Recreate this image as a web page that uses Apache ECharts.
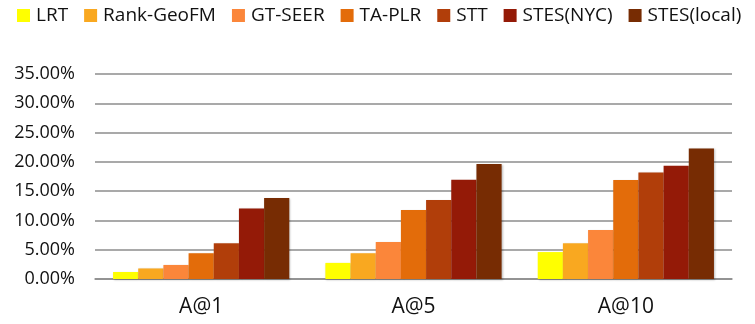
<!DOCTYPE html>
<html>
<head>
<meta charset="utf-8">
<script src="https://cdn.jsdelivr.net/npm/echarts@6/dist/echarts.min.js"></script>
<style>
  html, body { margin: 0; padding: 0; background: #fff; }
  #main { width: 755px; height: 324px; }
</style>
</head>
<body>
<div id="main"></div>
<script>
var categories = ['A@1', 'A@5', 'A@10'];
var seriesNames = ['LRT', 'Rank-GeoFM', 'GT-SEER', 'TA-PLR', 'STT', 'STES(NYC)', 'STES(local)'];
var lrt = [1.2, 2.75, 4.6];
var rankGeoFM = [1.8, 4.4, 6.1];
var gtSeer = [2.4, 6.3, 8.35];
var taPlr = [4.4, 11.8, 16.9];
var stt = [6.1, 13.5, 18.2];
var stesNyc = [12.05, 16.95, 19.35];
var stesLocal = [13.85, 19.65, 22.3];
var colors = ['#FFFF00', '#F9A820', '#FB863A', '#E36C0A', '#B13E0A', '#941A07', '#772C03'];

var values = [lrt, rankGeoFM, gtSeer, taPlr, stt, stesNyc, stesLocal];

var chartDom = document.getElementById('main');
var myChart = echarts.init(chartDom, null, { renderer: 'canvas' });
var option;
option = {
    animation: false,
    color: colors,
    textStyle: { fontFamily: 'Open Sans' },
    legend: {
        top: 1,
        left: 12,
        right: 0,
        itemWidth: 13,
        itemHeight: 13,
        itemGap: 16,
        icon: 'rect',
        textStyle: { fontSize: 19, color: '#111', padding: [0, 0, 0, 1] }
    },
    grid: { left: 95, right: 23, top: 74, bottom: 45 },
    xAxis: {
        type: 'category',
        data: categories,
        axisLine: { lineStyle: { color: '#8c8c8c', width: 1.5 } },
        axisTick: { show: false },
        axisLabel: { fontSize: 21, color: '#111', margin: 18 }
    },
    yAxis: {
        type: 'value',
        min: 0,
        max: 35,
        interval: 5,
        axisLine: { show: false },
        axisTick: { show: false },
        axisLabel: {
            fontSize: 18,
            color: '#111',
            margin: 20,
            formatter: function (v) { return v.toFixed(2) + '%'; }
        },
        splitLine: { lineStyle: { color: '#8c8c8c', width: 1.5 } }
    },
    series: seriesNames.map(function (name, i) {
        return {
            name: name,
            type: 'bar',
            data: values[i],
            barGap: '0%',
            barCategoryGap: '17%',
            itemStyle: {
                shadowColor: 'rgba(0,0,0,0.25)',
                shadowBlur: 2,
                shadowOffsetX: 1,
                shadowOffsetY: 1
            }
        };
    })
};
option && myChart.setOption(option);
</script>
</body>
</html>
